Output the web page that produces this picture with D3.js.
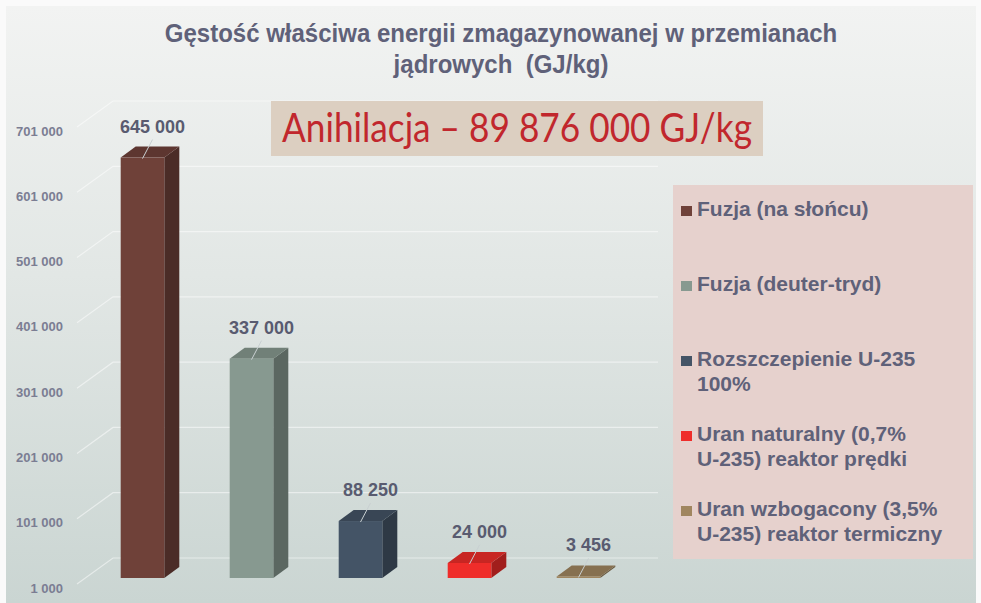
<!DOCTYPE html>
<html>
<head>
<meta charset="utf-8">
<script src="https://cdn.jsdelivr.net/npm/d3@7"></script>
<style>
  html, body { margin: 0; padding: 0; background: #fafafa; }
  svg { display: block; }
</style>
</head>
<body>
<div id="chart"></div>
<script>
const titleLines = ["Gęstość właściwa energii zmagazynowanej w przemianach", "jądrowych  (GJ/kg)"];
const noteText = "Anihilacja – 89 876 000 GJ/kg";
const categories = [
  "Fuzja (na słońcu)",
  "Fuzja (deuter-tryd)",
  "Rozszczepienie U-235\n100%",
  "Uran naturalny (0,7%\nU-235) reaktor prędki",
  "Uran wzbogacony (3,5%\nU-235) reaktor termiczny"
];
const values = [645000, 337000, 88250, 24000, 3456];
const colors = ["#6f4139", "#879990", "#445466", "#ef2d2a", "#a08660"];
const tickValues = [1000, 101000, 201000, 301000, 401000, 501000, 601000, 701000];

const width = 981;
const height = 603;
const depth = { dx: 15, dy: -11 };
const wall = { dx: 36, dy: -26 };

const locale = d3.formatLocale({ decimal: ",", thousands: " ", grouping: [3], currency: ["", ""] });
const fmt = locale.format(",d");

const svg = d3.select("#chart").append("svg")
  .attr("width", width)
  .attr("height", height);

const defs = svg.append("defs");
const bg = defs.append("linearGradient")
  .attr("id", "bg")
  .attr("x1", 0).attr("y1", 0).attr("x2", 0).attr("y2", 1);
bg.append("stop").attr("offset", "0%").attr("stop-color", "#f2f3f2");
bg.append("stop").attr("offset", "45%").attr("stop-color", "#e2e7e5");
bg.append("stop").attr("offset", "100%").attr("stop-color", "#cad5d2");

svg.append("rect")
  .attr("x", 6).attr("y", 6)
  .attr("width", 970).attr("height", height - 6)
  .attr("fill", "url(#bg)");

const x = d3.scaleBand()
  .domain(d3.range(values.length))
  .range([88, 633])
  .paddingInner(0.6)
  .paddingOuter(0.3);

const y = d3.scaleLinear()
  .domain([tickValues[0], tickValues[tickValues.length - 1]])
  .range([578, 121]);

// squeeze a text horizontally so it spans the given width (narrow font look)
function fitWidth(sel, cx, target) {
  const w = sel.node().getComputedTextLength();
  const k = target / w;
  sel.attr("x", 0).attr("transform", `translate(${cx},0) scale(${k},1)`);
  return k;
}

// gridlines (floor edge -> back wall)
const grid = svg.append("g").attr("class", "grid");
grid.selectAll("path")
  .data(tickValues)
  .join("path")
  .attr("d", (d) => `M77,${y(d) + 6}L${77 + wall.dx},${y(d) + 6 + wall.dy}H658`)
  .attr("fill", "none")
  .attr("stroke", "#ffffff")
  .attr("stroke-opacity", 0.5)
  .attr("stroke-width", 1.2);

// y axis labels
const yAxis = svg.append("g")
  .attr("transform", "translate(63,0)")
  .call(d3.axisLeft(y).tickValues(tickValues).tickFormat(fmt).tickSize(0).tickPadding(0));
yAxis.select(".domain").remove();
yAxis.selectAll("text")
  .attr("dy", 14)
  .attr("fill", "#7b7d93")
  .style("font-family", "'Liberation Sans', Arial, sans-serif")
  .style("font-size", "13px")
  .style("font-weight", "bold");

// bars
const bars = svg.append("g").attr("class", "bars")
  .selectAll("g")
  .data(values.map((v, i) => ({ v, i, color: colors[i] })))
  .join("g");

const x0 = (d) => x(d.i);
const x1 = (d) => x(d.i) + x.bandwidth();
const yt = (d) => y(d.v);
const yb = () => y(tickValues[0]);

bars.append("path")
  .attr("d", (d) => `M${x1(d)},${yb()}L${x1(d) + depth.dx},${yb() + depth.dy}L${x1(d) + depth.dx},${yt(d) + depth.dy}L${x1(d)},${yt(d)}Z`)
  .attr("fill", (d) => d3.color(d.color).darker(1.1));

bars.append("path")
  .attr("d", (d) => `M${x0(d)},${yt(d)}L${x0(d) + depth.dx},${yt(d) + depth.dy}L${x1(d) + depth.dx},${yt(d) + depth.dy}L${x1(d)},${yt(d)}Z`)
  .attr("fill", (d) => d3.color(d.color).darker(0.5));

bars.append("rect")
  .attr("x", x0)
  .attr("y", yt)
  .attr("width", x.bandwidth())
  .attr("height", (d) => yb() - yt(d))
  .attr("fill", (d) => d.color);

// value labels with leader lines
const labelX = (d) => x0(d) + x.bandwidth() / 2 + 10;
const labelY = (d) => yt(d) - 25;

bars.append("line")
  .attr("x1", (d) => x0(d) + x.bandwidth() / 2)
  .attr("y1", (d) => yt(d) + 1)
  .attr("x2", labelX)
  .attr("y2", (d) => labelY(d) + 7)
  .attr("stroke", "#c9d0d2")
  .attr("stroke-width", 1);

bars.append("text")
  .attr("x", labelX)
  .attr("y", labelY)
  .attr("text-anchor", "middle")
  .attr("fill", "#595b70")
  .style("font-family", "'Liberation Sans', Arial, sans-serif")
  .style("font-size", "18px")
  .style("font-weight", "bold")
  .text((d) => fmt(d.v));

// title
const title = svg.append("g")
  .selectAll("text")
  .data(titleLines)
  .join("text")
  .attr("y", (d, i) => 42 + i * 31)
  .attr("text-anchor", "middle")
  .attr("fill", "#5f6179")
  .style("font-family", "'Liberation Sans', Arial, sans-serif")
  .style("font-size", "25px")
  .style("font-weight", "bold")
  .style("white-space", "pre")
  .text((d) => d);

const kTitle = fitWidth(d3.select(title.nodes()[0]), 501, 673);
d3.select(title.nodes()[1]).attr("x", 0).attr("transform", `translate(501,0) scale(${kTitle},1)`);

// annihilation note
svg.append("rect")
  .attr("x", 271).attr("y", 101)
  .attr("width", 492).attr("height", 55)
  .attr("fill", "#dccfc1");

const note = svg.append("text")
  .attr("y", 142)
  .attr("text-anchor", "middle")
  .attr("fill", "#c1272d")
  .style("font-family", "Lato, 'Open Sans', sans-serif")
  .style("font-size", "41px")
  .text(noteText);
fitWidth(note, 517, 470);

// legend
svg.append("rect")
  .attr("x", 673).attr("y", 185)
  .attr("width", 300).attr("height", 374)
  .attr("fill", "#e6d1cd");

const legend = svg.append("g")
  .selectAll("g")
  .data(categories)
  .join("g")
  .attr("transform", (d, i) => `translate(681,${216 + i * 75})`);

legend.append("rect")
  .attr("x", 0).attr("y", -10)
  .attr("width", 11).attr("height", 10)
  .attr("fill", (d, i) => colors[i]);

legend.append("text")
  .attr("fill", "#5f6179")
  .style("font-family", "'Liberation Sans', Arial, sans-serif")
  .style("font-size", "21px")
  .style("font-weight", "bold")
  .selectAll("tspan")
  .data((d) => d.split("\n"))
  .join("tspan")
  .attr("x", 16)
  .attr("y", (d, i) => i * 25)
  .text((d) => d);
</script>
</body>
</html>
